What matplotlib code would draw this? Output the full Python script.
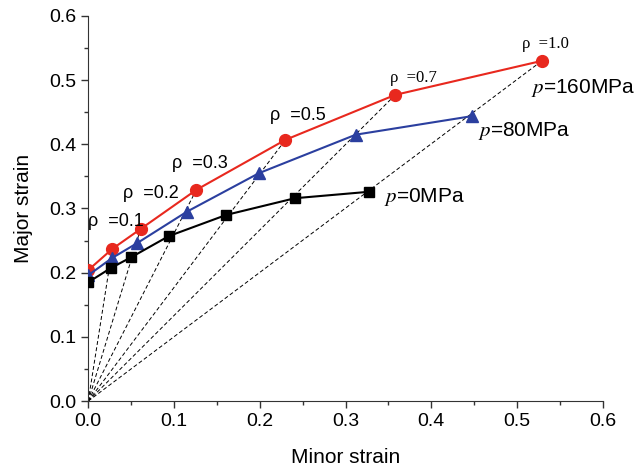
import matplotlib.pyplot as plt
from matplotlib.ticker import MultipleLocator

plt.rcParams['font.family'] = ['Liberation Sans', 'DejaVu Sans']

# datos
minor_160 = [0.0, 0.028, 0.061, 0.126, 0.230, 0.358, 0.529]
major_160 = [0.204, 0.237, 0.268, 0.329, 0.407, 0.477, 0.530]
minor_80 = [0.0, 0.028, 0.057, 0.115, 0.199, 0.312, 0.448]
major_80 = [0.196, 0.223, 0.246, 0.295, 0.355, 0.415, 0.444]
minor_0 = [0.0, 0.026, 0.050, 0.094, 0.161, 0.241, 0.327]
major_0 = [0.185, 0.207, 0.224, 0.257, 0.290, 0.316, 0.326]

rho_labels = ['=0.1', '=0.2', '=0.3', '=0.5', '=0.7', '=1.0']
rho_x = [0.000, 0.040, 0.098, 0.212, 0.352, 0.506]
rho_y = [0.280, 0.323, 0.370, 0.445, 0.503, 0.556]

fig = plt.figure(figsize=(6.44, 4.68), dpi=100)
ax = fig.add_axes([0.137, 0.143, 0.799, 0.823])

# lineas de rho constante desde el origen
for x, y in zip(minor_160, major_160):
    ax.plot([0, x], [0, y], 'k--', lw=0.7, dashes=(4, 2.5), zorder=1)

ax.plot(minor_160, major_160, '-o', color='#e8281e', lw=1.5, ms=8.5,
        markeredgecolor='#e8281e', zorder=3)
ax.plot(minor_80, major_80, '-^', color='#2b3f9f', lw=1.5, ms=9,
        markeredgecolor='#2b3f9f', zorder=3)
ax.plot(minor_0, major_0, '-s', color='black', lw=1.5, ms=7, zorder=3)

for i, (lab, x, y) in enumerate(zip(rho_labels, rho_x, rho_y)):
    if i < 4:
        ax.text(x, y, 'ρ  ' + lab, fontsize=13, va='center', ha='left', clip_on=True)
    else:
        ax.text(x, y, 'ρ  ' + lab, fontsize=12, va='center', ha='left',
                family='Liberation Serif')

ax.text(0.516, 0.487, '$p$=160MPa', fontsize=15, va='center',
        math_fontfamily='stix')
ax.text(0.455, 0.421, '$p$=80MPa', fontsize=15, va='center',
        math_fontfamily='stix')
ax.text(0.345, 0.318, '$p$=0MPa', fontsize=15, va='center',
        math_fontfamily='stix')

ax.set_xlim(0, 0.6)
ax.set_ylim(0, 0.6)
ax.xaxis.set_major_locator(MultipleLocator(0.1))
ax.xaxis.set_minor_locator(MultipleLocator(0.05))
ax.yaxis.set_major_locator(MultipleLocator(0.1))
ax.yaxis.set_minor_locator(MultipleLocator(0.05))
ax.spines['top'].set_visible(False)
ax.spines['right'].set_visible(False)
ax.spines['left'].set_color('#333333')
ax.spines['bottom'].set_color('#333333')
ax.tick_params(which='major', length=5, width=1, labelsize=14, color='#333333')
ax.tick_params(which='minor', length=3, width=1, color='#333333')
ax.xaxis.set_major_formatter(plt.FormatStrFormatter('%.1f'))
ax.yaxis.set_major_formatter(plt.FormatStrFormatter('%.1f'))

ax.set_xlabel('Minor strain', fontsize=15, labelpad=13)
ax.set_ylabel('Major strain', fontsize=15, labelpad=12)

fig.savefig('out.png')
